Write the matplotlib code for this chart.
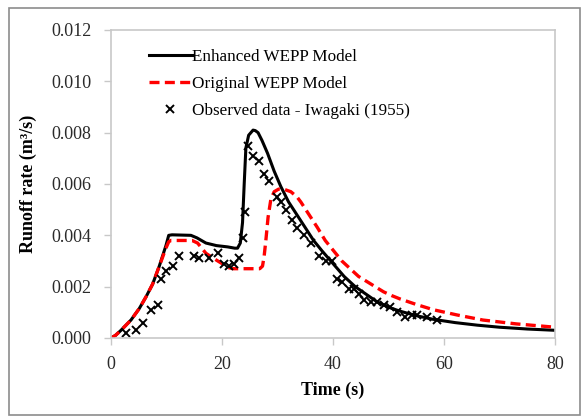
import matplotlib
matplotlib.use("Agg")
import matplotlib.pyplot as plt
from matplotlib.patches import Rectangle

# Enhanced WEPP model
enh_t = [0, 0.8, 1.8, 2.7, 3.6, 5.1, 6.3, 7.5, 8.7, 9.9, 10.4, 11, 14.4, 15.5, 17.1, 19,
         21, 22.3, 22.8, 23.3, 23.7, 24.0, 24.3, 24.8, 25.6, 26.0, 26.5, 27.2, 28.2, 29.4,
         30.6, 32, 33.5, 35, 36.5, 38, 40, 42, 44, 46, 48, 50, 52, 55, 58, 62, 66, 70,
         75, 80]
enh_q = [0, 0.0001, 0.0003, 0.0005, 0.0007, 0.00115, 0.0016, 0.0021, 0.0028, 0.0036,
         0.0040, 0.00402, 0.0040, 0.0039, 0.0037, 0.0036, 0.00355, 0.0035, 0.0035, 0.0037,
         0.0045, 0.0060, 0.0074, 0.0079, 0.0081, 0.00808, 0.0080, 0.0077, 0.0072, 0.0065,
         0.0059, 0.0053, 0.0048, 0.0043, 0.0038, 0.0034, 0.0029, 0.0024, 0.0020, 0.0017,
         0.0014, 0.0012, 0.00105, 0.00087, 0.00073, 0.0006, 0.0005, 0.00042, 0.00035,
         0.0003]

# Original WEPP model
orig_t = [0, 0.8, 1.8, 2.7, 3.6, 5.1, 6.3, 7.5, 8.7, 9.9, 10.4, 10.8, 14.6, 15.6, 17.1,
          18.5, 20, 21, 22, 26.8, 27.3, 27.6, 27.9, 28.3, 28.8, 29.4, 30.2, 31.1, 32.4,
          33.5, 34.2, 35.7, 37.2, 38.6, 40.1, 41.6, 43.1, 44.6, 46.1, 47.6, 49.1, 50.6,
          52.1, 55.1, 58.1, 62.3, 67, 73, 80]
orig_q = [0, 0.0001, 0.0003, 0.0005, 0.0007, 0.00115, 0.0016, 0.0021, 0.0028, 0.0035,
          0.00375, 0.0038, 0.0038, 0.0037, 0.0033, 0.0031, 0.0029, 0.00275, 0.0027,
          0.0027, 0.0028, 0.0032, 0.0038, 0.0047, 0.0054, 0.0057, 0.0058, 0.0058, 0.0057,
          0.0055, 0.0053, 0.0048, 0.0043, 0.0038, 0.0034, 0.0030, 0.0027, 0.0024, 0.0022,
          0.0020, 0.0018, 0.00165, 0.00152, 0.0013, 0.0011, 0.0009, 0.0007, 0.00055,
          0.00042]

# Observed data - Iwagaki (1955)
obs_t = [2.7, 4.5, 5.7, 7.2, 8.4, 9.0, 9.9, 11.1, 12.2, 14.9, 15.8, 17.6, 19.2, 20.3,
         21.2, 22.1, 23.0, 23.7, 24.1, 24.7, 25.6, 26.6, 27.5, 28.4, 30.0, 30.7, 31.5,
         32.7, 33.6, 34.7, 36.0, 37.4, 38.7, 39.9, 40.8, 41.7, 42.8, 43.7, 44.6, 45.5,
         46.8, 48.0, 49.1, 50.3, 51.5, 53.0, 54.2, 55.2, 57.0, 58.8]
obs_q = [0.0002, 0.0003, 0.0006, 0.0011, 0.0013, 0.0023, 0.0026, 0.0028, 0.0032, 0.0032,
         0.0031, 0.0031, 0.0033, 0.0029, 0.0028, 0.0029, 0.0031, 0.0039, 0.0049, 0.0075,
         0.0071, 0.0069, 0.0064, 0.0061, 0.0055, 0.0053, 0.0050, 0.0046, 0.0043, 0.0040,
         0.0037, 0.0032, 0.0030, 0.0030, 0.0023, 0.0022, 0.0019, 0.0019, 0.0017, 0.0015,
         0.0014, 0.0014, 0.0013, 0.0012, 0.0010, 0.0008, 0.0009, 0.0009, 0.0008, 0.0007]

plt.rcParams['font.family'] = ['Liberation Serif', 'DejaVu Serif']
grey = '#c8c8c8'

fig = plt.figure(figsize=(5.88, 4.17), dpi=100)
ax = fig.add_axes([111 / 588, 1 - 338 / 417, 444 / 588, 308 / 417])

ax.plot(enh_t, enh_q, color='black', lw=2.2, label='Enhanced WEPP Model',
        solid_joinstyle='round')
ax.plot(orig_t, orig_q, color='#ff0000', lw=2.4, dashes=(3, 1.6), label='Original WEPP Model')
ax.plot(obs_t, obs_q, ls='none', marker='x', ms=6, mew=1.4, color='black',
        label='Observed data - Iwagaki (1955)')

ax.set_xlim(0, 80)
ax.set_ylim(0, 0.012)
ax.set_xticks([0, 20, 40, 60, 80])
ax.set_yticks([0.0, 0.002, 0.004, 0.006, 0.008, 0.010, 0.012])
ax.set_yticklabels([f'{v:.3f}' for v in ax.get_yticks()])
ax.tick_params(direction='out', length=5, width=1, color=grey, labelsize=13,
               labelcolor='#2a2a2a')
ax.tick_params(axis='y', pad=9)
ax.tick_params(axis='x', pad=8)
for s in ax.spines.values():
    s.set_color(grey)
    s.set_linewidth(1.2)

ax.set_xlabel('Time (s)', fontsize=13, fontweight='bold', labelpad=6)
ax.set_ylabel('Runoff rate (m³/s)', fontsize=13, fontweight='bold', labelpad=10)

ax.legend(loc='upper left', bbox_to_anchor=(0.07, 0.96), frameon=False, fontsize=12.3,
          handlelength=2.5, handletextpad=0.05, labelspacing=0.65, borderaxespad=0)

fig.patches.append(Rectangle((9 / 588, 1 - 415 / 417), 571 / 588, 407 / 417,
                             transform=fig.transFigure, fill=False,
                             edgecolor='#8c8c8c', lw=1.2))

fig.savefig('out.png', dpi=100)
